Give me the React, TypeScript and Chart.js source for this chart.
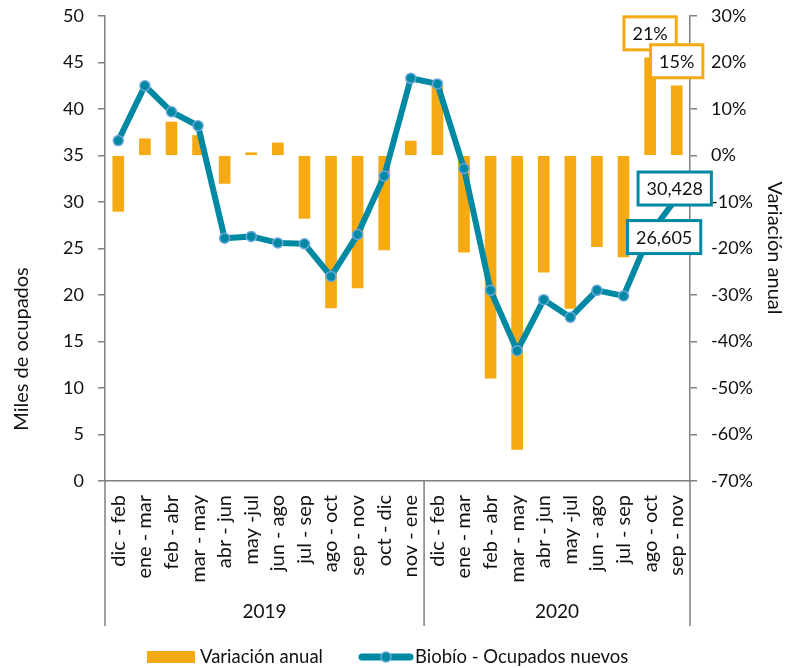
import React, { useEffect, useRef } from 'react';
import { Chart, registerables } from 'chart.js';

Chart.register(...registerables);

// ---------- Data ----------
const CATEGORIES = [
  'dic - feb', 'ene - mar', 'feb - abr', 'mar - may', 'abr - jun', 'may -jul',
  'jun - ago', 'jul - sep', 'ago - oct', 'sep - nov', 'oct - dic', 'nov - ene',
  'dic - feb', 'ene - mar', 'feb - abr', 'mar - may', 'abr - jun', 'may -jul',
  'jun - ago', 'jul - sep', 'ago - oct', 'sep - nov',
];
const YEAR_LABELS = ['2019', '2020'];
const YEAR_COUNTS = [12, 10];

// Variación anual (%), right axis
const VARIACION_ANUAL = [
  -12.0, 3.6, 7.2, 4.3, -6.0, 0.6, 2.7, -13.5, -32.8, -28.5, -20.3, 3.1,
  15.0, -20.8, -47.9, -63.2, -25.1, -32.9, -19.6, -21.8, 21, 15,
];
// Biobío - Ocupados nuevos (miles), left axis
const OCUPADOS_NUEVOS = [
  36.6, 42.5, 39.7, 38.2, 26.1, 26.3, 25.6, 25.5, 22.0, 26.5, 32.8, 43.3,
  42.7, 33.6, 20.5, 14.0, 19.5, 17.6, 20.5, 19.9, 26.605, 30.428,
];

const LEFT_MIN = 0;
const LEFT_MAX = 50;
const LEFT_STEP = 5;
const RIGHT_MIN = -70;
const RIGHT_MAX = 30;
const RIGHT_STEP = 10;

const BAR_LABEL_INDEXES = [20, 21];
const POINT_LABEL_INDEXES = [20, 21];

const SERIES_BAR = 'Variación anual';
const SERIES_LINE = 'Biobío - Ocupados nuevos';
const LEFT_TITLE = 'Miles de ocupados';
const RIGHT_TITLE = 'Variación anual';

// ---------- Style ----------
const FONT = 'Lato, "Open Sans", sans-serif';
const ORANGE = '#F5A912';
const TEAL = '#0089A3';
const POINT_BORDER = '#6AA6DC';
const AXIS = '#7F7F7F';
const TEXT = '#111111';

const POINT_LABEL_OFFSETS = [
  [14, 3.5],
  [-2, -9.5],
];

const decorPlugin = {
  id: 'decor',
  afterDatasetsDraw(chart: any) {
    const ctx = chart.ctx;
    const xs = chart.scales.x;
    const yL = chart.scales.y;
    const yR = chart.scales.y1;
    ctx.save();
    ctx.font = `18px ${FONT}`;
    const drawBox = (cx: number, cy: number, text: string, color: string) => {
      const w = ctx.measureText(text).width + 17;
      const h = 33;
      ctx.fillStyle = '#ffffff';
      ctx.fillRect(cx - w / 2, cy - h / 2, w, h);
      ctx.lineWidth = 3;
      ctx.strokeStyle = color;
      ctx.strokeRect(cx - w / 2, cy - h / 2, w, h);
      ctx.fillStyle = TEXT;
      ctx.textAlign = 'center';
      ctx.textBaseline = 'middle';
      ctx.fillText(text, cx, cy + 1);
    };
    BAR_LABEL_INDEXES.forEach((i) => {
      const v = VARIACION_ANUAL[i];
      const cx = xs.getPixelForValue(i);
      const top = yR.getPixelForValue(v);
      drawBox(cx, top - 24.5, `${Math.round(v)}%`, ORANGE);
    });
    POINT_LABEL_INDEXES.forEach((i, k) => {
      const v = OCUPADOS_NUEVOS[i];
      const cx = xs.getPixelForValue(i) + POINT_LABEL_OFFSETS[k][0];
      const cy = yL.getPixelForValue(v) + POINT_LABEL_OFFSETS[k][1];
      const txt = Math.round(v * 1000).toLocaleString('en-US');
      drawBox(cx, cy, txt, TEAL);
    });
    ctx.restore();
  },
  afterDraw(chart: any) {
    const ctx = chart.ctx;
    const xs = chart.scales.x;
    const area = chart.chartArea;
    ctx.save();
    // group dividers
    const bounds: number[] = [xs.left];
    let acc = 0;
    YEAR_COUNTS.forEach((n, k) => {
      acc += n;
      if (k < YEAR_COUNTS.length - 1) {
        bounds.push((xs.getPixelForValue(acc - 1) + xs.getPixelForValue(acc)) / 2);
      }
    });
    bounds.push(xs.right);
    ctx.strokeStyle = AXIS;
    ctx.lineWidth = 1.5;
    bounds.forEach((bx) => {
      ctx.beginPath();
      ctx.moveTo(bx, area.bottom);
      ctx.lineTo(bx, 626);
      ctx.stroke();
    });
    ctx.fillStyle = TEXT;
    ctx.font = `19px ${FONT}`;
    ctx.textAlign = 'center';
    ctx.textBaseline = 'middle';
    YEAR_LABELS.forEach((lab, k) => {
      ctx.fillText(lab, (bounds[k] + bounds[k + 1]) / 2, 612);
    });

    // axis titles
    ctx.font = `20px ${FONT}`;
    ctx.save();
    ctx.translate(21.5, 349);
    ctx.rotate(-Math.PI / 2);
    ctx.fillText(LEFT_TITLE, 0, 0);
    ctx.restore();
    ctx.save();
    ctx.translate(774, 248);
    ctx.rotate(Math.PI / 2);
    ctx.fillText(RIGHT_TITLE, 0, 0);
    ctx.restore();

    // legend
    const ly = 657;
    ctx.font = `18.5px ${FONT}`;
    ctx.fillStyle = ORANGE;
    ctx.fillRect(147, ly - 6, 48, 12);
    ctx.fillStyle = TEXT;
    ctx.textAlign = 'left';
    ctx.fillText(SERIES_BAR, 200, ly);
    ctx.strokeStyle = TEAL;
    ctx.lineWidth = 7;
    ctx.lineCap = 'round';
    ctx.beginPath();
    ctx.moveTo(362, ly);
    ctx.lineTo(410, ly);
    ctx.stroke();
    ctx.beginPath();
    ctx.arc(386, ly, 5, 0, Math.PI * 2);
    ctx.fillStyle = TEAL;
    ctx.fill();
    ctx.lineWidth = 1.5;
    ctx.strokeStyle = POINT_BORDER;
    ctx.stroke();
    ctx.fillStyle = TEXT;
    ctx.fillText(SERIES_LINE, 415, ly);
    ctx.restore();
  },
};

const fixVertical = (s: any) => {
  s.width = 105;
  s.paddingTop = 0;
  s.paddingBottom = 0;
};

export default function App() {
  const canvasRef = useRef<HTMLCanvasElement | null>(null);

  useEffect(() => {
    if (!canvasRef.current) return;
    const chart = new Chart(canvasRef.current, {
      type: 'bar',
      data: {
        labels: CATEGORIES,
        datasets: [
          {
            type: 'line',
            label: SERIES_LINE,
            data: OCUPADOS_NUEVOS,
            yAxisID: 'y',
            borderColor: TEAL,
            backgroundColor: TEAL,
            borderWidth: 6,
            borderJoinStyle: 'round',
            pointRadius: 5,
            pointBorderWidth: 1.5,
            pointBackgroundColor: TEAL,
            pointBorderColor: POINT_BORDER,
            tension: 0,
            order: 0,
          } as any,
          {
            type: 'bar',
            label: SERIES_BAR,
            data: VARIACION_ANUAL,
            yAxisID: 'y1',
            backgroundColor: ORANGE,
            barThickness: 11,
            order: 1,
          } as any,
        ],
      },
      options: {
        responsive: false,
        animation: false,
        devicePixelRatio: 1,
        layout: { padding: { top: 16, bottom: 42, left: 0, right: 0 } },
        plugins: {
          legend: { display: false },
          tooltip: { enabled: false },
        },
        scales: {
          x: {
            type: 'category',
            offset: true,
            grid: { display: false, drawTicks: false },
            border: { display: true, color: AXIS, width: 1.5 },
            ticks: {
              autoSkip: false,
              minRotation: 90,
              maxRotation: 90,
              padding: 14,
              color: TEXT,
              font: { family: FONT, size: 20 },
            },
            afterFit: (s: any) => { s.height = 145; s.paddingLeft = 0; s.paddingRight = 0; },
          },
          y: {
            position: 'left',
            min: LEFT_MIN,
            max: LEFT_MAX,
            ticks: {
              stepSize: LEFT_STEP,
              padding: 14,
              color: TEXT,
              font: { family: FONT, size: 18 },
            },
            grid: { drawOnChartArea: false, drawTicks: true, tickLength: 7, color: AXIS, lineWidth: 1.5 },
            border: { display: true, color: AXIS, width: 1.5 },
            afterFit: fixVertical,
          },
          y1: {
            position: 'right',
            min: RIGHT_MIN,
            max: RIGHT_MAX,
            ticks: {
              stepSize: RIGHT_STEP,
              padding: 14,
              color: TEXT,
              font: { family: FONT, size: 18 },
              callback: (v: any) => `${v}%`,
            },
            grid: { drawOnChartArea: false, drawTicks: true, tickLength: 7, color: AXIS, lineWidth: 1.5 },
            border: { display: true, color: AXIS, width: 1.5 },
            afterFit: fixVertical,
          },
        },
      } as any,
      plugins: [decorPlugin],
    });
    return () => chart.destroy();
  }, []);

  return (
    <div style={{ position: 'absolute', left: 0, top: 0, width: 795, height: 668, background: '#fff' }}>
      <canvas ref={canvasRef} width={795} height={668} style={{ display: 'block', width: 795, height: 668 }} />
    </div>
  );
}
